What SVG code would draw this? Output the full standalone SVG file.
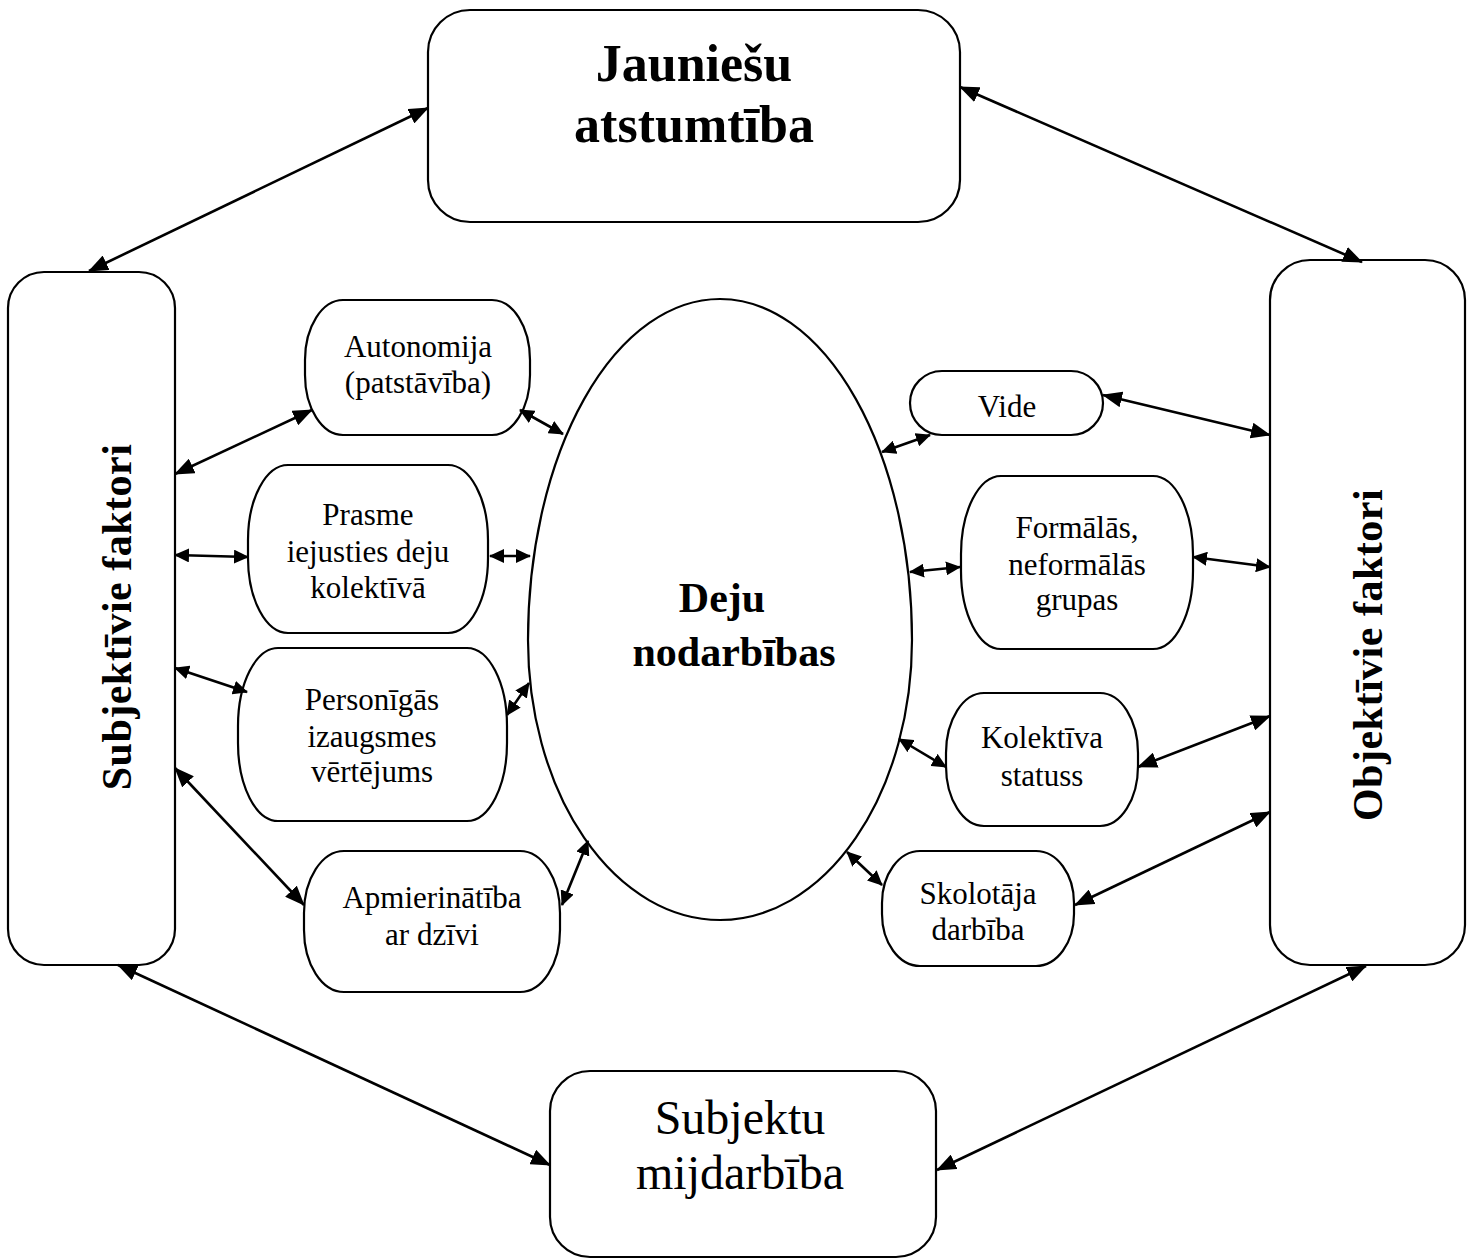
<svg xmlns="http://www.w3.org/2000/svg" width="1474" height="1260" viewBox="0 0 1474 1260">
  <style>
    .box { fill: #ffffff; stroke: #000000; stroke-width: 2.2; }
    .link { fill: none; stroke: #000000; stroke-width: 2.6; marker-start: url(#head); marker-end: url(#head); }
    .link.short { marker-start: url(#head-s); marker-end: url(#head-s); }
    .t { font-family: "Liberation Serif", "Times New Roman", serif; fill: #000000; text-anchor: middle; }
    .small { font-size: 31px; }
    .title { font-size: 52px; font-weight: bold; }
    .side { font-size: 42px; font-weight: bold; letter-spacing: 0.5px; }
    .centre { font-size: 42px; font-weight: bold; }
    .plain { font-size: 48px; }
  </style>
  <defs>
    <marker id="head" markerUnits="userSpaceOnUse" markerWidth="20" markerHeight="16" refX="19" refY="8" orient="auto-start-reverse">
      <path d="M0,0 L20,8 L0,16 z" fill="#000000"/>
    </marker>
    <marker id="head-s" markerUnits="userSpaceOnUse" markerWidth="15" markerHeight="14" refX="14" refY="7" orient="auto-start-reverse">
      <path d="M0,0 L15,7 L0,14 z" fill="#000000"/>
    </marker>
  </defs>
  <rect width="1474" height="1260" fill="#ffffff"/>

  <!-- outer nodes -->
  <g id="node-jauniesu">
    <rect class="box" x="428" y="10" width="532" height="212" rx="42" ry="42"/>
    <text class="t title" x="694" y="81">Jauniešu</text>
    <text class="t title" x="694" y="142">atstumtība</text>
  </g>
  <g id="node-subjektivie">
    <rect class="box" x="8" y="272" width="167" height="693" rx="36" ry="36"/>
    <text class="t side" transform="translate(131,617) rotate(-90)">Subjektīvie faktori</text>
  </g>
  <g id="node-objektivie">
    <rect class="box" x="1270" y="260" width="195" height="705" rx="40" ry="40"/>
    <text class="t side" transform="translate(1382,655) rotate(-90)">Objektīvie faktori</text>
  </g>
  <g id="node-mijdarbiba">
    <rect class="box" x="550" y="1071" width="386" height="186" rx="40" ry="40"/>
    <text class="t plain" x="740" y="1134">Subjektu</text>
    <text class="t plain" x="740" y="1189">mijdarbība</text>
  </g>

  <!-- central node: egg-like oval, fuller above its widest point -->
  <g id="node-deju">
    <path class="box" d="M528,640 A192,341 0 0 1 912,640 A192,280 0 0 1 528,640 Z"/>
    <text class="t centre" x="722" y="612">Deju</text>
    <text class="t centre" x="734" y="666">nodarbības</text>
  </g>

  <!-- left-hand factors -->
  <g id="node-autonomija">
    <rect class="box" x="305" y="300" width="225" height="135" rx="38" ry="60"/>
    <text class="t small" x="418" y="357">Autonomija</text>
    <text class="t small" x="418" y="393">(patstāvība)</text>
  </g>
  <g id="node-prasme">
    <rect class="box" x="248" y="465" width="240" height="168" rx="40" ry="75"/>
    <text class="t small" x="368" y="525">Prasme</text>
    <text class="t small" x="368" y="562">iejusties deju</text>
    <text class="t small" x="368" y="598">kolektīvā</text>
  </g>
  <g id="node-personigas">
    <rect class="box" x="238" y="648" width="269" height="173" rx="40" ry="78"/>
    <text class="t small" x="372" y="710">Personīgās</text>
    <text class="t small" x="372" y="747">izaugsmes</text>
    <text class="t small" x="372" y="782">vērtējums</text>
  </g>
  <g id="node-apmierinatiba">
    <rect class="box" x="304" y="851" width="256" height="141" rx="40" ry="62"/>
    <text class="t small" x="432" y="908">Apmierinātība</text>
    <text class="t small" x="432" y="945">ar dzīvi</text>
  </g>

  <!-- right-hand factors -->
  <g id="node-vide">
    <rect class="box" x="910" y="371" width="193" height="64" rx="32" ry="32"/>
    <text class="t small" x="1007" y="417">Vide</text>
  </g>
  <g id="node-grupas">
    <rect class="box" x="961" y="476" width="232" height="173" rx="40" ry="78"/>
    <text class="t small" x="1077" y="538">Formālās,</text>
    <text class="t small" x="1077" y="575">neformālās</text>
    <text class="t small" x="1077" y="610">grupas</text>
  </g>
  <g id="node-statuss">
    <rect class="box" x="946" y="693" width="192" height="133" rx="38" ry="60"/>
    <text class="t small" x="1042" y="748">Kolektīva</text>
    <text class="t small" x="1042" y="786">statuss</text>
  </g>
  <g id="node-skolotajs">
    <rect class="box" x="882" y="851" width="192" height="115" rx="38" ry="52"/>
    <text class="t small" x="978" y="904">Skolotāja</text>
    <text class="t small" x="978" y="940">darbība</text>
  </g>

  <!-- connectors (two-way arrows) -->
  <g id="connectors">
    <line class="link" x1="89" y1="271" x2="428" y2="108"/>
    <line class="link" x1="960" y1="87" x2="1362" y2="262"/>
    <line class="link" x1="118" y1="965" x2="550" y2="1165"/>
    <line class="link" x1="1366" y1="966" x2="937" y2="1170"/>

    <line class="link" x1="175" y1="474" x2="312" y2="410"/>
    <line class="link short" x1="520" y1="410" x2="563" y2="434"/>
    <line class="link short" x1="175" y1="555" x2="248" y2="557"/>
    <line class="link short" x1="490" y1="556" x2="530" y2="556"/>
    <line class="link short" x1="175" y1="668" x2="247" y2="692"/>
    <line class="link short" x1="507" y1="715" x2="529" y2="683"/>
    <line class="link" x1="175" y1="768" x2="304" y2="905"/>
    <line class="link short" x1="562" y1="905" x2="588" y2="841"/>

    <line class="link short" x1="882" y1="452" x2="930" y2="435"/>
    <line class="link" x1="1103" y1="395" x2="1270" y2="435"/>
    <line class="link short" x1="910" y1="572" x2="960" y2="567"/>
    <line class="link short" x1="1193" y1="557" x2="1270" y2="567"/>
    <line class="link short" x1="899" y1="739" x2="946" y2="767"/>
    <line class="link" x1="1138" y1="767" x2="1270" y2="716"/>
    <line class="link short" x1="847" y1="852" x2="882" y2="885"/>
    <line class="link" x1="1075" y1="905" x2="1270" y2="812"/>
  </g>
</svg>
